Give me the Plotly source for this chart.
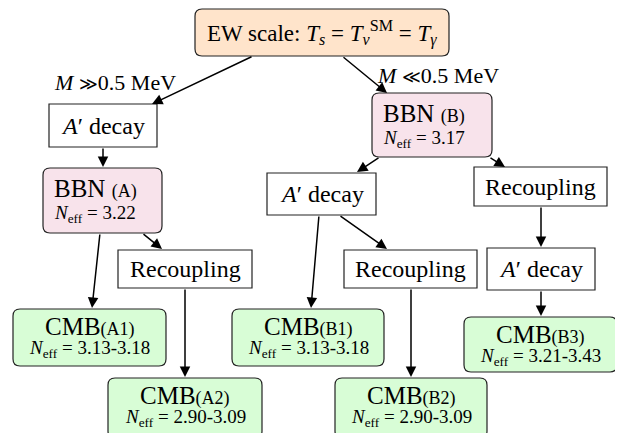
import plotly.graph_objects as go

# ---------------- data (texts / values) ----------------
top_label = "EW scale: <i>T</i><sub><i>s</i></sub> = <i>T</i><sub><i>ν</i></sub><sup>SM</sup> = <i>T</i><sub><i>γ</i></sub>"
branch_labels = ["<i>M</i> <span style='font-family:DejaVu Serif;font-size:18px'>≫</span>0.5 MeV",
                 "<i>M</i> <span style='font-family:DejaVu Serif;font-size:18px'>≪</span>0.5 MeV"]
decay_label = "<i>A</i>′ decay"
recoupling_label = "Recoupling"
bbn_tags = ["A", "B"]
bbn_neff = ["3.22", "3.17"]
cmb_tags = ["A1", "A2", "B1", "B2", "B3"]
cmb_neff = ["3.13-3.18", "2.90-3.09", "3.13-3.18", "2.90-3.09", "3.21-3.43"]

# ---------------- layout geometry (pixels) ----------------
W, H = 623, 433
OFF = 8  # page body margin of the html page
FONT = "Liberation Serif"
PEACH = "#FFE4CB"
PINK = "#F8E3EB"
GREEN = "#D8FDD6"

top_box = (195, 9, 449, 56)
bbn_boxes = [(43, 168, 162, 233), (372, 93, 492, 157)]
decay_boxes = [(49, 104, 157, 147), (267, 173, 376, 215), (487, 248, 595, 290)]
recoup_boxes = [(118, 250, 252, 288), (344, 250, 477, 288), (474, 167, 607, 206)]
cmb_boxes = [(13, 309, 166, 366), (108, 378, 262, 438), (232, 309, 384, 366),
             (335, 378, 487, 438), (464, 317, 617, 372)]

# arrows: (tail_x, tail_y, tip_x, tip_y)
arrows = [
    (253, 56, 152, 104),
    (342, 56, 387, 93),
    (103, 147, 103, 167),
    (100, 233, 92, 308),
    (142, 233, 162, 249),
    (185, 288, 185, 377),
    (380, 157, 357, 172),
    (489, 157, 505, 167),
    (319, 215, 311, 308),
    (339, 215, 387, 249),
    (411, 288, 411, 377),
    (541, 206, 541, 247),
    (541, 290, 541, 316),
]


def rounded_path(x0, y0, x1, y1, r=7):
    return (f"M {x0+r},{y0} L {x1-r},{y0} Q {x1},{y0} {x1},{y0+r} "
            f"L {x1},{y1-r} Q {x1},{y1} {x1-r},{y1} L {x0+r},{y1} "
            f"Q {x0},{y1} {x0},{y1-r} L {x0},{y0+r} Q {x0},{y0} {x0+r},{y0} Z")


shapes = []
def add_box(b, fill, rounded):
    if rounded:
        shapes.append(dict(type="path", path=rounded_path(*b), fillcolor=fill,
                           line=dict(color="#222222", width=1.2), layer="below"))
    else:
        shapes.append(dict(type="rect", x0=b[0], y0=b[1], x1=b[2], y1=b[3],
                           fillcolor=fill, line=dict(color="#222222", width=1.2),
                           layer="below"))

add_box(top_box, PEACH, True)
for b in bbn_boxes:
    add_box(b, PINK, True)
for b in decay_boxes + recoup_boxes:
    add_box(b, "white", False)
for b in cmb_boxes:
    add_box(b, GREEN, True)

ann = []
def txt(x, y, s, size, xanchor="center"):
    ann.append(dict(x=x, y=y, text=s, showarrow=False, xanchor=xanchor,
                    yanchor="middle", font=dict(family=FONT, size=size, color="black")))

txt((top_box[0] + top_box[2]) / 2, 33, top_label, 23)
txt(52, 82, branch_labels[0], 22, "left")
txt(375, 75, branch_labels[1], 22, "left")
for b in decay_boxes:
    txt((b[0] + b[2]) / 2, (b[1] + b[3]) / 2, decay_label, 24)
for b in recoup_boxes:
    txt((b[0] + b[2]) / 2, (b[1] + b[3]) / 2, recoupling_label, 24)
for b, tag, ne in zip(bbn_boxes, bbn_tags, bbn_neff):
    txt(b[0] + 9, b[1] + 20, f"BBN <span style='font-size:18px'>({tag})</span>", 25, "left")
    txt(b[0] + 9, b[1] + 46, f"<i>N</i><sub>eff</sub> = {ne}", 19, "left")
for b, tag, ne in zip(cmb_boxes, cmb_tags, cmb_neff):
    cx = (b[0] + b[2]) / 2
    txt(cx, b[1] + 17, f"CMB<span style='font-size:18px'>({tag})</span>", 25)
    txt(cx, b[1] + 40, f"<i>N</i><sub>eff</sub> = {ne}", 19)

for tx, ty, hx, hy in arrows:
    ann.append(dict(x=hx, y=hy, ax=tx, ay=ty, xref="x", yref="y", axref="x", ayref="y",
                    text="", showarrow=True, arrowhead=2, arrowsize=1.4,
                    arrowwidth=1.5, arrowcolor="black"))

fig = go.Figure()
fig.update_layout(
    width=W - OFF, height=H - OFF, autosize=False,
    margin=dict(l=0, r=0, t=0, b=0),
    paper_bgcolor="white", plot_bgcolor="white",
    xaxis=dict(range=[OFF, W], visible=False, fixedrange=True),
    yaxis=dict(range=[H, OFF], visible=False, fixedrange=True),
    shapes=shapes, annotations=ann, showlegend=False,
)
fig.write_html("out.html")
